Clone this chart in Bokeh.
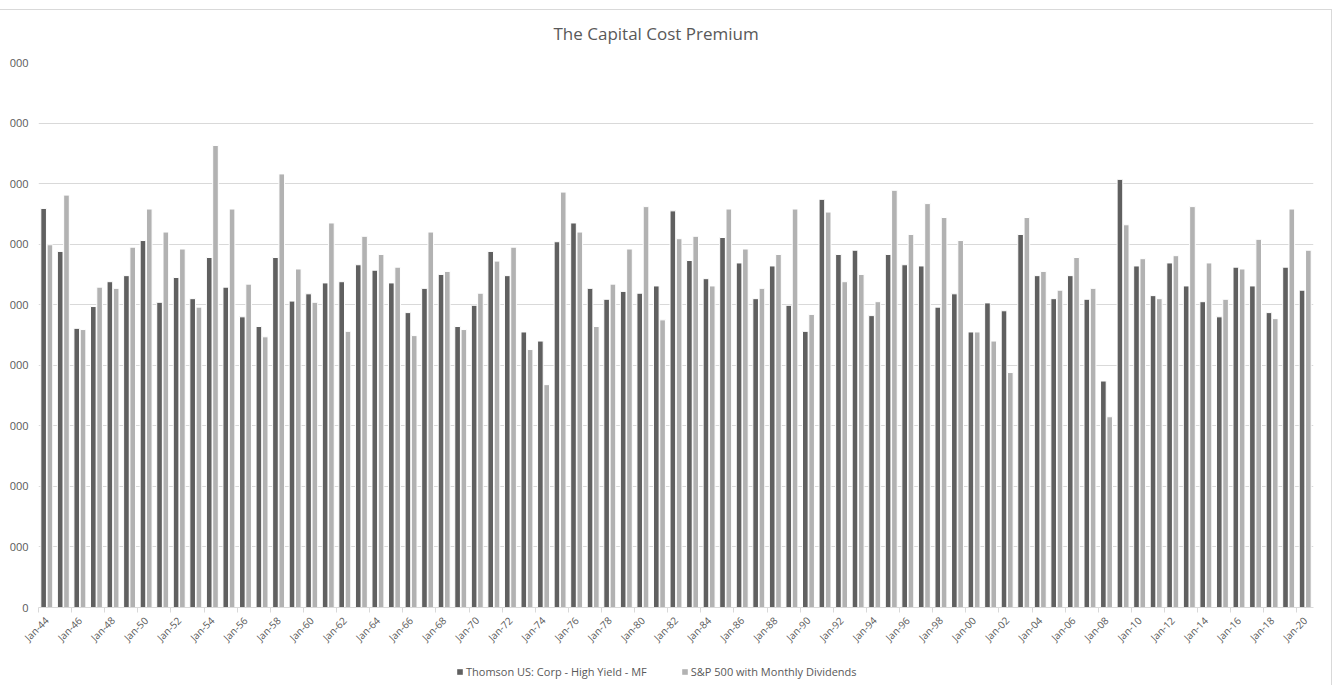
import math
from bokeh.plotting import figure
from bokeh.layouts import column
from bokeh.models import (Range1d, FixedTicker, ColumnDataSource, Legend, LegendItem)
from bokeh.embed import file_html
from bokeh.resources import INLINE

# ---- data (values in thousands) ----
years = list(range(1944, 2021))
high_yield = [6.59, 5.88, 4.61, 4.97, 5.38, 5.48, 6.06, 5.04, 5.45, 5.10,
              5.78, 5.29, 4.80, 4.64, 5.78, 5.06, 5.18, 5.36, 5.38, 5.66,
              5.57, 5.36, 4.87, 5.27, 5.50, 4.64, 4.99, 5.88, 5.48, 4.55,
              4.40, 6.04, 6.35, 5.27, 5.09, 5.22, 5.19, 5.31, 6.55, 5.73,
              5.43, 6.11, 5.69, 5.10, 5.64, 4.99, 4.56, 6.74, 5.83, 5.90,
              4.82, 5.83, 5.66, 5.64, 4.96, 5.18, 4.55, 5.03, 4.90, 6.16,
              5.48, 5.10, 5.48, 5.09, 3.74, 7.07, 5.64, 5.15, 5.69, 5.31,
              5.05, 4.80, 5.62, 5.31, 4.87, 5.62, 5.24]
sp500 = [5.99, 6.81, 4.59, 5.29, 5.27, 5.95, 6.58, 6.20, 5.92, 4.96,
         7.63, 6.58, 5.34, 4.47, 7.16, 5.59, 5.04, 6.35, 4.56, 6.13,
         5.83, 5.62, 4.49, 6.20, 5.55, 4.59, 5.19, 5.72, 5.95, 4.26,
         3.68, 6.86, 6.20, 4.64, 5.34, 5.92, 6.62, 4.75, 6.09, 6.13,
         5.31, 6.58, 5.92, 5.27, 5.83, 6.58, 4.84, 6.53, 5.38, 5.50,
         5.05, 6.89, 6.16, 6.67, 6.44, 6.06, 4.55, 4.40, 3.88, 6.44,
         5.55, 5.24, 5.78, 5.27, 3.15, 6.32, 5.76, 5.10, 5.81, 6.62,
         5.69, 5.09, 5.59, 6.08, 4.77, 6.58, 5.90]
series_names = ["Thomson US: Corp - High Yield - MF", "S&P 500 with Monthly Dividends"]
x_tick_labels = ["Jan-%02d" % (y % 100) for y in years[::2]]
y_tick_values = list(range(0, 10))
y_tick_labels = ["0"] + ["000"] * 9

DARK = "#606060"
LIGHT = "#b2b2b2"
TXT = "#595959"
GRID = "#d9d9d9"
FONT = "Open Sans"

n = len(years)
idx = list(range(n))
src = ColumnDataSource(dict(
    xd=[i + 0.31 for i in idx],
    xl=[i + 0.69 for i in idx],
    hy=high_yield,
    sp=sp500,
))

p = figure(width=1332, height=660,
           x_range=Range1d(0, n), y_range=Range1d(0, 9),
           output_backend="svg", toolbar_location=None,
           min_border_left=38, min_border_right=19, min_border_top=62, min_border_bottom=53)

p.vbar(x="xd", top="hy", width=0.34, bottom=0, source=src,
       fill_color=DARK, line_color="white", line_width=1)
p.vbar(x="xl", top="sp", width=0.34, bottom=0, source=src,
       fill_color=LIGHT, line_color="white", line_width=1)

# title
p.title.text = "The Capital Cost Premium"
p.title.align = "left"
p.title.offset = 515
p.title.text_font = FONT
p.title.text_font_size = "17px"
p.title.text_font_style = "normal"
p.title.text_color = TXT
p.title.standoff = 35

# x axis
xa = p.xaxis[0]
xa.ticker = FixedTicker(ticks=[i + 0.5 for i in range(0, n, 2)],
                        minor_ticks=[i for i in range(0, n, 2)])
xa.major_label_overrides = {i + 0.5: lab for i, lab in zip(range(0, n, 2), x_tick_labels)}
xa.major_label_orientation = math.pi / 4
xa.major_tick_line_color = None
xa.major_tick_out = 0
xa.major_tick_in = 0
xa.minor_tick_out = 5
xa.minor_tick_in = 0
xa.minor_tick_line_color = GRID
xa.axis_line_color = GRID
xa.major_label_text_font = FONT
xa.major_label_text_font_size = "10px"
xa.major_label_text_color = TXT
xa.major_label_standoff = 6

# y axis
ya = p.yaxis[0]
ya.ticker = FixedTicker(ticks=y_tick_values)
ya.major_label_overrides = {v: l for v, l in zip(y_tick_values, y_tick_labels)}
ya.axis_line_color = None
ya.major_tick_line_color = None
ya.minor_tick_line_color = None
ya.major_tick_out = 0
ya.major_label_standoff = 10
ya.major_label_text_font = FONT
ya.major_label_text_font_size = "11px"
ya.major_label_text_color = TXT

p.xgrid.visible = False
p.ygrid.ticker = FixedTicker(ticks=y_tick_values)
p.ygrid.grid_line_color = GRID
p.outline_line_color = None
p.border_fill_color = None
p.background_fill_color = None

# legend strip below the chart (zero-height swatch bars only feed the legend glyphs)
pl = figure(width=1332, height=25, x_range=Range1d(0, 1), y_range=Range1d(0, 1),
            output_backend="svg", toolbar_location=None,
            x_axis_location=None, y_axis_location=None, min_border=0)
pl.grid.visible = False
pl.outline_line_color = None
pl.border_fill_color = None
pl.background_fill_color = None
swatch = ColumnDataSource(dict(x=[0.5], top=[0.0]))
l1 = pl.vbar(x="x", top="top", bottom=0, width=0.001, source=swatch,
             fill_color=DARK, line_color=None)
l2 = pl.vbar(x="x", top="top", bottom=0, width=0.001, source=swatch,
             fill_color=LIGHT, line_color=None)
legend = Legend(items=[LegendItem(label=series_names[0], renderers=[l1]),
                       LegendItem(label=series_names[1], renderers=[l2])],
                orientation="horizontal", location=(418, 6),
                glyph_width=7, glyph_height=7, label_standoff=3, spacing=34,
                label_height=10, padding=0, margin=0, border_line_color=None,
                background_fill_alpha=0,
                label_text_font=FONT, label_text_font_size="11px", label_text_color=TXT)
pl.add_layout(legend)

layout = column(p, pl, spacing=0, styles={
    "background": ("linear-gradient(#d9d9d9, #d9d9d9) 0px 9px / 1332px 1px no-repeat, "
                   "linear-gradient(#d9d9d9, #d9d9d9) 1331px 9px / 1px 676px no-repeat, #ffffff"),
})

open("out.html", "w").write(file_html(layout, INLINE))
